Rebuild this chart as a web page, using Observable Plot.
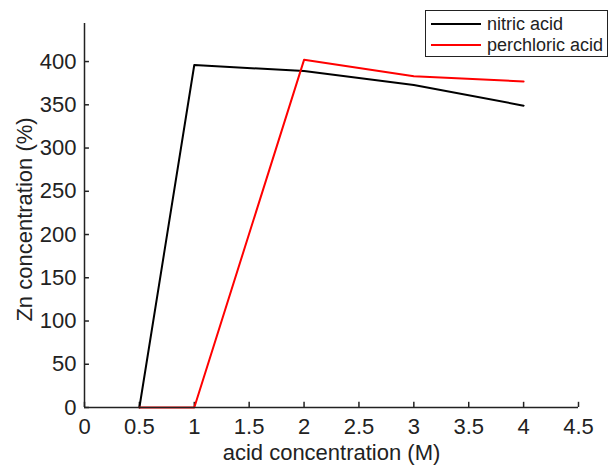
<!DOCTYPE html>
<html><head><meta charset="utf-8">
<script src="https://cdn.jsdelivr.net/npm/d3@7"></script>
<script src="https://cdn.jsdelivr.net/npm/@observablehq/plot@0.6"></script>
<style>
body{margin:0;background:#fff;font-family:"Liberation Sans",Arial,sans-serif}
#wrap{position:relative;width:609px;height:466px}
#legend{position:absolute;left:425px;top:10px;width:183px;height:47px;border:1.5px solid #222;background:#fff;box-sizing:border-box;font-size:18px;color:#222}
#legend .row{position:absolute;left:5px;height:20px;display:flex;align-items:center}
#legend .sw{width:50px;height:0;border-top:2px solid;margin-right:6px}
</style></head><body>
<div id="wrap"><div id="legend"></div></div>
<script>
const seriesNames = ["nitric acid", "perchloric acid"];
const seriesColors = ["#000000", "#ff0000"];
const xNitric = [0.5, 1, 2, 3, 4];
const yNitric = [0, 396, 389, 373, 349];
const xPerchloric = [0.5, 1, 2, 3, 4];
const yPerchloric = [0, 0, 402, 383, 377];
const xTicks = [0, 0.5, 1, 1.5, 2, 2.5, 3, 3.5, 4, 4.5];
const yTicks = [0, 50, 100, 150, 200, 250, 300, 350, 400];
const xLabel = "acid concentration (M)";
const yLabel = "Zn concentration (%)";

const nitric = xNitric.map((x, i) => ({x, y: yNitric[i]}));
const perchloric = xPerchloric.map((x, i) => ({x, y: yPerchloric[i]}));

const chart = Plot.plot({
  width: 609, height: 466,
  marginLeft: 84, marginRight: 31, marginTop: 23, marginBottom: 59,
  style: {fontFamily: '"Liberation Sans", Arial, sans-serif', fontSize: "22px", color: "#222", background: "#fff"},
  x: {domain: [0, 4.5]},
  y: {domain: [0, 444]},
  marks: [
    Plot.axisX({ticks: xTicks, tickSize: 0, tickPadding: 11, tickFormat: d => String(d), label: null, fontSize: 22, fill: "#222"}),
    Plot.axisY({ticks: yTicks, tickSize: 0, tickPadding: 8, tickFormat: d => String(d), label: null, fontSize: 22, fill: "#222"}),
    Plot.ruleX(xTicks, {x: d => d, y1: 0, y2: 6, stroke: "#222", strokeWidth: 1.5}),
    Plot.ruleY(yTicks, {y: d => d, x1: 0, x2: 0.045, stroke: "#222", strokeWidth: 1.5}),
    Plot.line(nitric, {x: "x", y: "y", stroke: seriesColors[0], strokeWidth: 2}),
    Plot.line(perchloric, {x: "x", y: "y", stroke: seriesColors[1], strokeWidth: 2}),
    Plot.ruleY([0], {x1: 0, x2: 4.5, stroke: "#222", strokeWidth: 1.5}),
    Plot.ruleX([0], {y1: 0, y2: 444, stroke: "#222", strokeWidth: 1.5}),
    Plot.text([xLabel], {text: d => d, frameAnchor: "bottom", textAnchor: "middle", dy: 52, fontSize: 22, fill: "#222"}),
    Plot.text([yLabel], {text: d => d, frameAnchor: "left", textAnchor: "middle", dx: -60, dy: 4, rotate: -90, fontSize: 22, fill: "#222"})
  ]
});
const wrap = document.getElementById("wrap");
wrap.insertBefore(chart, wrap.firstChild);
const legend = document.getElementById("legend");
seriesNames.forEach((name, i) => {
  const row = document.createElement("div");
  row.className = "row";
  row.style.top = (3 + i * 21) + "px";
  row.innerHTML = `<span class="sw" style="border-color:${seriesColors[i]}"></span><span>${name}</span>`;
  legend.appendChild(row);
});
</script>
</body></html>
